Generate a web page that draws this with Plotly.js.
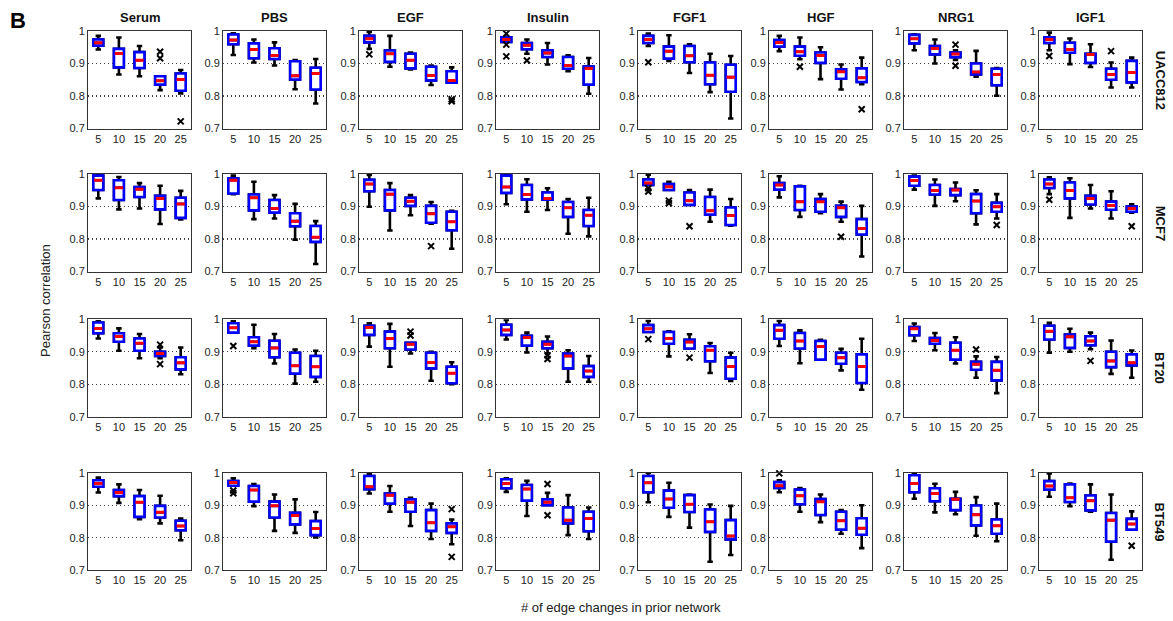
<!DOCTYPE html>
<html>
<head>
<meta charset="utf-8">
<script src="https://cdn.plot.ly/plotly-3.0.1.min.js"></script>
<style>html,body{margin:0;padding:0;background:#fff;}#chart{width:1173px;height:621px;}</style>
</head>
<body>
<div id="chart"></div>
<script>
// ---------------- DATA ----------------
const categories = [5, 10, 15, 20, 25];
const conditions = ['Serum', 'PBS', 'EGF', 'Insulin', 'FGF1', 'HGF', 'NRG1', 'IGF1'];
const cellLines = ['UACC812', 'MCF7', 'BT20', 'BT549'];
const yTickVals = [0.7, 0.8, 0.9, 1.0];
const yTickText = ['0.7', '0.8', '0.9', '1'];

// UACC812 (per condition: values at 5,10,15,20,25)
const uacc812Low = [
  [0.943,0.866,0.861,0.818,0.808],[0.926,0.903,0.894,0.821,0.777],[0.945,0.890,0.882,0.834,0.841],[0.966,0.930,0.897,0.876,0.807],
  [0.954,0.908,0.871,0.812,0.731],[0.938,0.913,0.852,0.820,0.836],[0.941,0.900,0.911,0.859,0.801],[0.941,0.898,0.889,0.826,0.826]];
const uacc812Q1 = [
  [0.955,0.888,0.886,0.835,0.816],[0.959,0.916,0.914,0.851,0.820],[0.965,0.905,0.885,0.848,0.841],[0.966,0.944,0.920,0.884,0.835],
  [0.963,0.915,0.904,0.836,0.813],[0.952,0.924,0.902,0.853,0.843],[0.962,0.928,0.919,0.866,0.833],[0.963,0.933,0.902,0.850,0.842]];
const uacc812Med = [
  [0.964,0.931,0.910,0.847,0.851],[0.972,0.943,0.925,0.862,0.869],[0.976,0.930,0.910,0.863,0.848],[0.974,0.956,0.932,0.894,0.885],
  [0.974,0.938,0.924,0.864,0.858],[0.965,0.936,0.925,0.875,0.856],[0.976,0.946,0.929,0.874,0.866],[0.974,0.943,0.928,0.866,0.872]];
const uacc812Q3 = [
  [0.974,0.945,0.935,0.861,0.869],[0.989,0.962,0.947,0.907,0.887],[0.985,0.940,0.930,0.890,0.876],[0.981,0.963,0.941,0.920,0.891],
  [0.985,0.952,0.954,0.903,0.896],[0.972,0.952,0.934,0.882,0.885],[0.988,0.954,0.934,0.900,0.884],[0.981,0.964,0.930,0.884,0.908]];
const uacc812High = [
  [0.985,0.980,0.954,0.861,0.880],[0.993,0.974,0.965,0.911,0.914],[0.997,0.985,0.934,0.894,0.888],[0.983,0.974,0.963,0.925,0.917],
  [0.992,0.987,0.959,0.930,0.923],[0.985,0.980,0.950,0.897,0.918],[0.990,0.974,0.941,0.939,0.886],[0.995,0.977,0.959,0.903,0.918]];
const uacc812Outliers = [
  [[20,0.936],[20,0.916],[25,0.722]], [], [[5,0.928],[25,0.790],[25,0.784]], [[5,0.992],[5,0.958],[5,0.922],[10,0.909]],
  [[5,0.904]], [[10,0.890],[25,0.759]], [[15,0.958],[15,0.893]], [[5,0.923],[20,0.938]]];

// MCF7
const mcf7Low = [
  [0.925,0.891,0.894,0.846,0.860],[0.938,0.861,0.863,0.798,0.723],[0.899,0.826,0.873,0.847,0.770],[0.907,0.884,0.889,0.816,0.808],
  [0.966,0.951,0.905,0.853,0.841],[0.928,0.868,0.879,0.853,0.746],[0.952,0.902,0.916,0.845,0.863],[0.938,0.865,0.894,0.863,0.881]];
const mcf7Q1 = [
  [0.951,0.920,0.929,0.891,0.865],[0.940,0.888,0.881,0.839,0.791],[0.947,0.888,0.902,0.850,0.827],[0.942,0.922,0.921,0.868,0.840],
  [0.966,0.951,0.905,0.875,0.843],[0.952,0.889,0.884,0.868,0.814],[0.964,0.937,0.935,0.879,0.884],[0.957,0.925,0.906,0.890,0.884]];
const mcf7Med = [
  [0.981,0.958,0.953,0.925,0.908],[0.981,0.927,0.894,0.855,0.805],[0.969,0.938,0.916,0.878,0.853],[0.960,0.937,0.925,0.896,0.873],
  [0.972,0.961,0.918,0.887,0.872],[0.966,0.915,0.915,0.896,0.832],[0.980,0.949,0.951,0.917,0.899],[0.969,0.949,0.925,0.903,0.894]];
const mcf7Q3 = [
  [0.995,0.981,0.960,0.933,0.927],[0.987,0.937,0.920,0.879,0.840],[0.982,0.951,0.927,0.902,0.884],[0.995,0.966,0.943,0.914,0.889],
  [0.983,0.969,0.943,0.929,0.897],[0.972,0.962,0.923,0.902,0.861],[0.992,0.966,0.954,0.938,0.911],[0.983,0.974,0.933,0.915,0.900]];
const mcf7High = [
  [0.999,0.991,0.972,0.964,0.948],[0.995,0.976,0.935,0.908,0.855],[0.997,0.972,0.935,0.914,0.887],[0.997,0.984,0.956,0.923,0.927],
  [0.998,0.976,0.951,0.952,0.923],[0.993,0.964,0.938,0.915,0.902],[0.995,0.983,0.974,0.950,0.938],[0.990,0.987,0.966,0.947,0.907]];
const mcf7Outliers = [
  [], [], [[20,0.778]], [],
  [[5,0.956],[5,0.946],[10,0.918],[10,0.910],[15,0.839]], [[20,0.807]], [[25,0.843]], [[5,0.921],[25,0.839]]];

// BT20
const bt20Low = [
  [0.941,0.903,0.880,0.880,0.831],[0.959,0.911,0.864,0.802,0.808],[0.916,0.854,0.895,0.811,0.800],[0.938,0.898,0.895,0.808,0.808],
  [0.961,0.886,0.910,0.835,0.810],[0.918,0.865,0.876,0.843,0.783],[0.933,0.905,0.864,0.820,0.773],[0.897,0.900,0.908,0.832,0.820]];
const bt20Q1 = [
  [0.957,0.931,0.903,0.887,0.846],[0.959,0.919,0.883,0.833,0.823],[0.952,0.911,0.907,0.849,0.803],[0.952,0.919,0.911,0.849,0.823],
  [0.961,0.925,0.910,0.871,0.817],[0.940,0.910,0.876,0.863,0.804],[0.951,0.925,0.876,0.845,0.812],[0.938,0.912,0.920,0.853,0.858]];
const bt20Med = [
  [0.972,0.947,0.926,0.895,0.866],[0.974,0.931,0.912,0.857,0.854],[0.975,0.941,0.923,0.867,0.834],[0.967,0.944,0.923,0.887,0.841],
  [0.971,0.941,0.930,0.905,0.855],[0.966,0.933,0.916,0.882,0.855],[0.971,0.935,0.905,0.862,0.843],[0.963,0.946,0.933,0.872,0.866]];
const bt20Q3 = [
  [0.990,0.957,0.941,0.900,0.883],[0.988,0.945,0.934,0.897,0.887],[0.980,0.962,0.928,0.897,0.854],[0.983,0.949,0.931,0.895,0.856],
  [0.982,0.961,0.937,0.917,0.882],[0.982,0.958,0.933,0.897,0.892],[0.976,0.942,0.928,0.869,0.869],[0.980,0.953,0.948,0.900,0.892]];
const bt20High = [
  [0.994,0.972,0.955,0.913,0.913],[0.994,0.983,0.955,0.907,0.903],[0.988,0.986,0.928,0.900,0.868],[0.998,0.959,0.947,0.905,0.887],
  [0.995,0.963,0.954,0.927,0.897],[0.995,0.966,0.937,0.909,0.940],[0.987,0.958,0.945,0.886,0.884],[0.989,0.971,0.959,0.935,0.904]];
const bt20Outliers = [
  [[20,0.922],[20,0.862]], [[5,0.918]], [[15,0.962],[15,0.950]], [[15,0.889],[15,0.878]],
  [[5,0.939],[15,0.882]], [], [[20,0.907]], [[15,0.872]]];

// BT549
const bt549Low = [
  [0.939,0.907,0.857,0.844,0.792],[0.960,0.897,0.821,0.815,0.801],[0.936,0.880,0.836,0.796,0.780],[0.941,0.867,0.900,0.808,0.796],
  [0.909,0.864,0.831,0.726,0.747],[0.940,0.880,0.848,0.812,0.768],[0.920,0.878,0.872,0.806,0.789],[0.926,0.897,0.880,0.732,0.825]];
const bt549Q1 = [
  [0.957,0.928,0.864,0.862,0.823],[0.960,0.911,0.862,0.841,0.808],[0.949,0.905,0.880,0.821,0.815],[0.952,0.914,0.900,0.844,0.820],
  [0.940,0.892,0.879,0.818,0.795],[0.953,0.903,0.870,0.825,0.809],[0.940,0.912,0.885,0.838,0.812],[0.948,0.910,0.884,0.788,0.825]];
const bt549Med = [
  [0.967,0.939,0.909,0.878,0.836],[0.970,0.947,0.898,0.868,0.828],[0.957,0.931,0.909,0.846,0.834],[0.967,0.950,0.909,0.854,0.859],
  [0.969,0.919,0.903,0.849,0.805],[0.960,0.929,0.911,0.852,0.829],[0.967,0.936,0.918,0.871,0.837],[0.959,0.923,0.914,0.854,0.842]];
const bt549Q3 = [
  [0.977,0.947,0.928,0.898,0.852],[0.974,0.959,0.911,0.877,0.851],[0.990,0.936,0.918,0.885,0.844],[0.980,0.962,0.918,0.893,0.880],
  [0.990,0.945,0.931,0.887,0.854],[0.971,0.948,0.919,0.880,0.860],[0.992,0.952,0.920,0.899,0.856],[0.974,0.964,0.930,0.876,0.858]];
const bt549High = [
  [0.985,0.964,0.947,0.929,0.859],[0.983,0.965,0.933,0.918,0.879],[0.998,0.959,0.923,0.905,0.856],[0.983,0.975,0.938,0.931,0.893],
  [1.000,0.969,0.933,0.902,0.898],[0.977,0.953,0.933,0.885,0.900],[0.998,0.966,0.941,0.925,0.905],[0.998,0.967,0.964,0.933,0.881]];
const bt549Outliers = [
  [], [[5,0.945],[5,0.937]], [[25,0.888],[25,0.741]], [[15,0.965],[15,0.869]],
  [], [[5,0.998]], [], [[25,0.775]]];

const rowsLow = [uacc812Low, mcf7Low, bt20Low, bt549Low];
const rowsQ1 = [uacc812Q1, mcf7Q1, bt20Q1, bt549Q1];
const rowsMed = [uacc812Med, mcf7Med, bt20Med, bt549Med];
const rowsQ3 = [uacc812Q3, mcf7Q3, bt20Q3, bt549Q3];
const rowsHigh = [uacc812High, mcf7High, bt20High, bt549High];
const rowsOut = [uacc812Outliers, mcf7Outliers, bt20Outliers, bt549Outliers];

// ---------------- LAYOUT GEOMETRY (pixels) ----------------
const W = 1173, H = 621;
const colLeft = [88, 223, 359, 496, 638, 769, 904, 1039];
const panelW = 103;
const rowTop = [31, 174, 319.3, 472.7];
const panelH = 97.5;
const FONT = 'Liberation Sans, Arial, Helvetica, sans-serif';

const data = [];
const layout = {
  width: W, height: H,
  margin: {l: 0, r: 0, t: 0, b: 0},
  paper_bgcolor: '#ffffff', plot_bgcolor: '#ffffff',
  showlegend: false, boxmode: 'overlay',
  font: {family: FONT, color: '#222', size: 11},
  annotations: []
};

for (let r = 0; r < 4; r++) {
  for (let c = 0; c < 8; c++) {
    const k = r * 8 + c;
    const xid = k === 0 ? 'x' : 'x' + (k + 1);
    const yid = k === 0 ? 'y' : 'y' + (k + 1);
    const xkey = k === 0 ? 'xaxis' : 'xaxis' + (k + 1);
    const ykey = k === 0 ? 'yaxis' : 'yaxis' + (k + 1);
    layout[xkey] = {
      domain: [colLeft[c] / W, (colLeft[c] + panelW) / W],
      anchor: yid, range: [2.5, 27.5], fixedrange: true,
      tickmode: 'array', tickvals: categories, ticktext: categories.map(String),
      showgrid: false, zeroline: false, showline: true, mirror: true,
      linecolor: '#333', linewidth: 1, ticks: '',
      tickfont: {size: 11, color: '#222', family: FONT}
    };
    layout[ykey] = {
      domain: [1 - (rowTop[r] + panelH) / H, 1 - rowTop[r] / H],
      anchor: xid, range: [0.7, 1.0], fixedrange: true,
      tickmode: 'array', tickvals: yTickVals, ticktext: yTickText,
      showgrid: true, gridcolor: '#444', griddash: '1px,3px', gridwidth: 1.2,
      zeroline: false, showline: true, mirror: true,
      linecolor: '#333', linewidth: 1, ticks: '',
      tickfont: {size: 11, color: '#222', family: FONT}
    };
    const lo = rowsLow[r][c], q1 = rowsQ1[r][c], med = rowsMed[r][c], q3 = rowsQ3[r][c], hi = rowsHigh[r][c];
    // whiskers (black)
    data.push({
      type: 'box', xaxis: xid, yaxis: yid, x: categories,
      q1: q1, median: med, q3: q3, lowerfence: lo, upperfence: hi,
      width: 2.4, whiskerwidth: 0.55, boxpoints: false,
      line: {color: '#000000', width: 2.6}, fillcolor: '#ffffff', hoverinfo: 'skip'
    });
    // box (blue)
    data.push({
      type: 'box', xaxis: xid, yaxis: yid, x: categories,
      q1: q1, median: med, q3: q3, lowerfence: q1, upperfence: q3,
      width: 2.4, whiskerwidth: 0, boxpoints: false,
      line: {color: '#0000ff', width: 2.6}, fillcolor: '#ffffff', hoverinfo: 'skip'
    });
    // median (red)
    data.push({
      type: 'box', xaxis: xid, yaxis: yid, x: categories,
      q1: med, median: med, q3: med, lowerfence: med, upperfence: med,
      width: 2.0, whiskerwidth: 0, boxpoints: false,
      line: {color: '#ff0000', width: 3}, fillcolor: 'rgba(0,0,0,0)', hoverinfo: 'skip'
    });
    // outliers
    const outs = rowsOut[r][c];
    data.push({
      type: 'scatter', mode: 'markers', xaxis: xid, yaxis: yid,
      x: outs.map(p => p[0]), y: outs.map(p => p[1]),
      marker: {symbol: 'x-thin', size: 6, color: '#000', line: {color: '#000', width: 2}},
      hoverinfo: 'skip', cliponaxis: false
    });
  }
}

// column titles
conditions.forEach((name, c) => {
  layout.annotations.push({
    text: '<b>' + name + '</b>', xref: 'paper', yref: 'paper',
    x: (colLeft[c] + panelW / 2) / W, y: 1 - 17 / H,
    xanchor: 'center', yanchor: 'middle', showarrow: false,
    font: {family: FONT, size: 13, color: '#111'}
  });
});
// row labels
cellLines.forEach((name, r) => {
  layout.annotations.push({
    text: '<b>' + name + '</b>', xref: 'paper', yref: 'paper',
    x: 1160 / W, y: 1 - (rowTop[r] + panelH / 2) / H,
    xanchor: 'center', yanchor: 'middle', showarrow: false, textangle: 90,
    font: {family: FONT, size: 13, color: '#111'}
  });
});
// panel letter
layout.annotations.push({
  text: '<b>B</b>', xref: 'paper', yref: 'paper', x: 18 / W, y: 1 - 20 / H,
  xanchor: 'center', yanchor: 'middle', showarrow: false,
  font: {family: FONT, size: 22, color: '#000'}
});
// axis titles
layout.annotations.push({
  text: 'Pearson correlation', xref: 'paper', yref: 'paper', x: 46 / W, y: 1 - 301 / H,
  xanchor: 'center', yanchor: 'middle', showarrow: false, textangle: -90,
  font: {family: FONT, size: 13, color: '#222'}
});
layout.annotations.push({
  text: '# of edge changes in prior network', xref: 'paper', yref: 'paper', x: 621 / W, y: 1 - 607 / H,
  xanchor: 'center', yanchor: 'middle', showarrow: false,
  font: {family: FONT, size: 13, color: '#222'}
});

Plotly.newPlot('chart', data, layout, {displayModeBar: false, staticPlot: true});
</script>
</body>
</html>
